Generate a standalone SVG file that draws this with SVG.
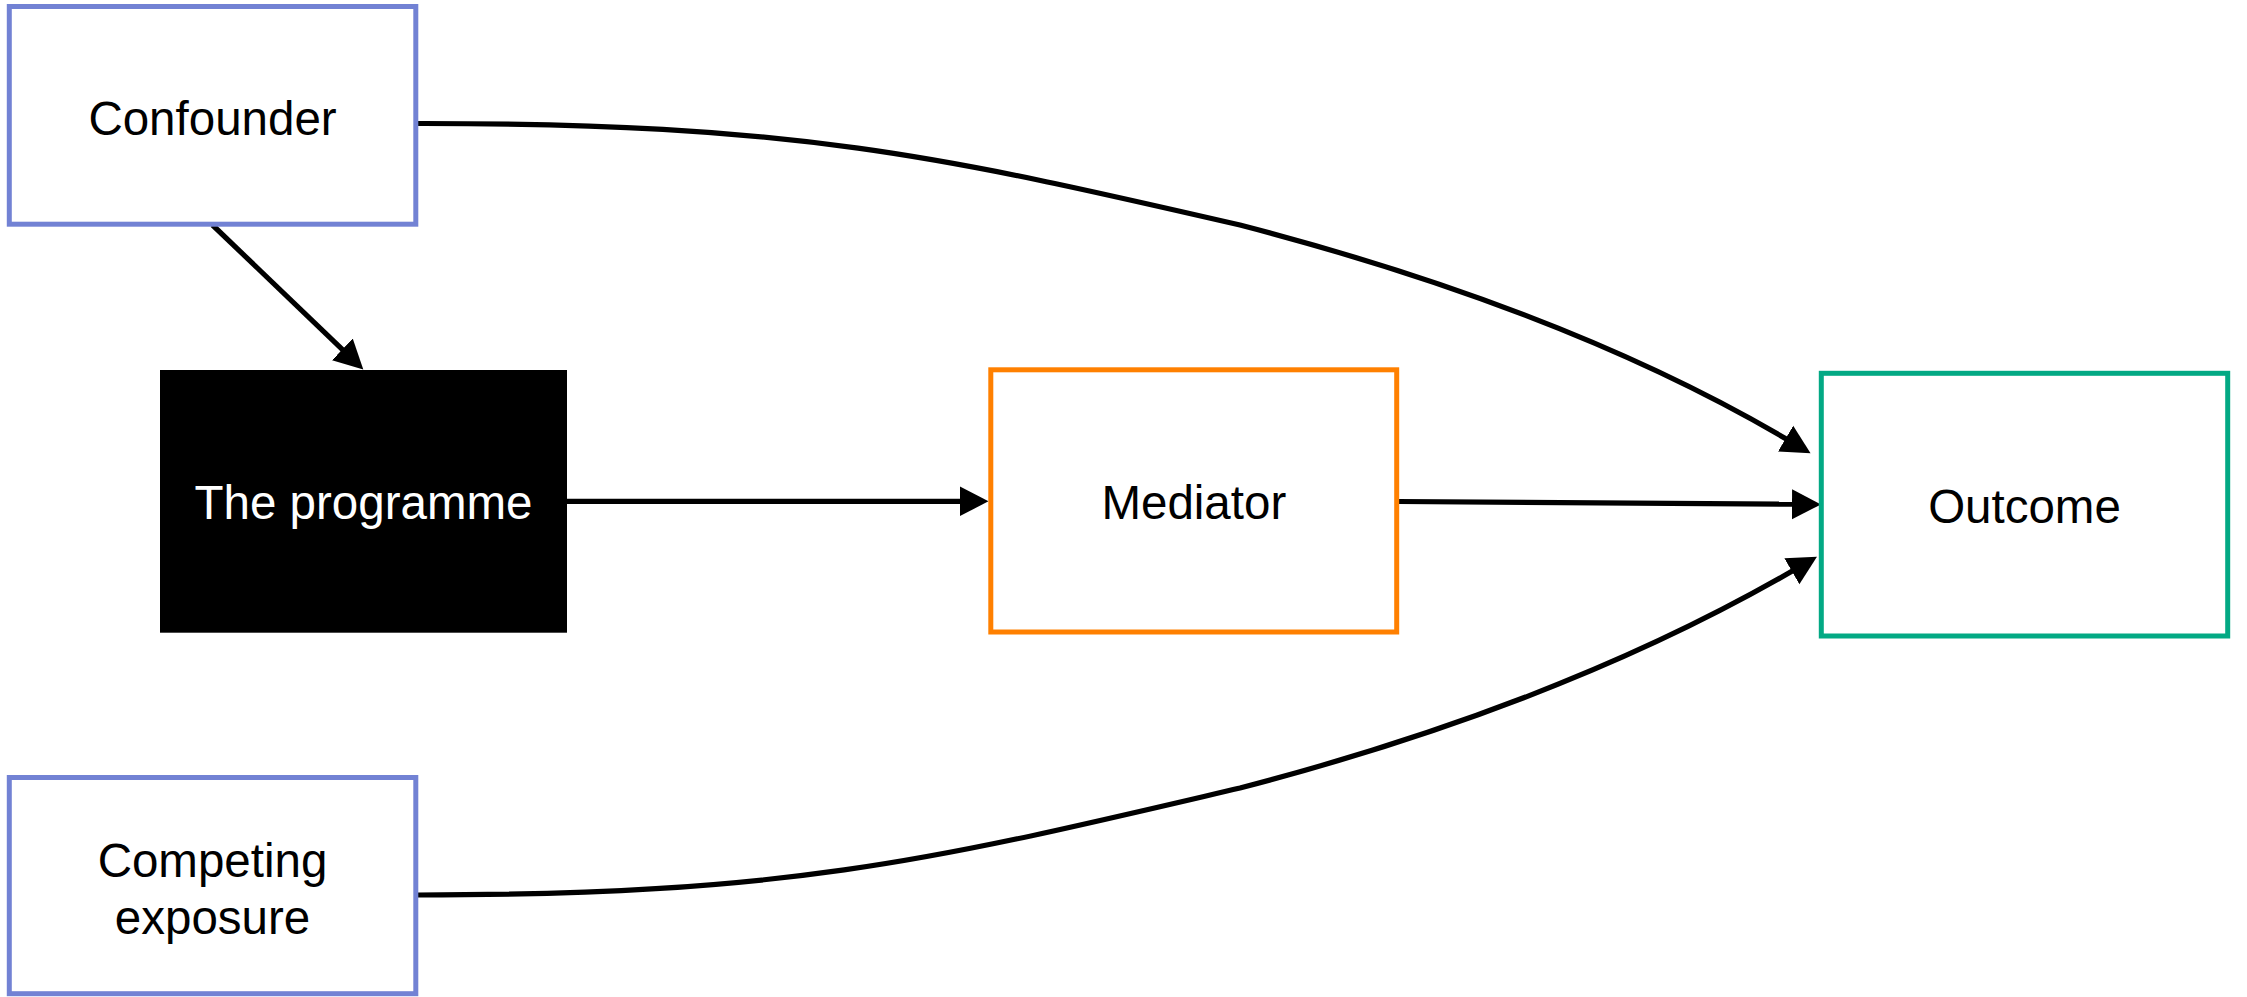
<svg xmlns="http://www.w3.org/2000/svg" width="2247" height="997" viewBox="0 0 2247 997">
  <style>
    .box { fill: #ffffff; stroke-width: 5; }
    .blue { stroke: #7282d4; }
    .orange { stroke: #ff8000; }
    .green { stroke: #03a984; }
    .lbl { font-family: "Liberation Sans", Arial, sans-serif; font-size: 47.5px; text-anchor: middle; fill: #000000; }
    .edge { fill: none; stroke: #000000; stroke-width: 5.2; marker-end: url(#arrow); }
  </style>
  <defs>
    <marker id="arrow" markerUnits="userSpaceOnUse" viewBox="0 -16 30 32" markerWidth="30" markerHeight="32" refX="2" refY="0" orient="auto">
      <path d="M0,-15 L29,0 L0,15 Z" fill="#000000"/>
    </marker>
  </defs>
  <rect width="2247" height="997" fill="#ffffff"/>

  <g id="connectors">
    <path class="edge" d="M212.5,225 L343.8,350.8"/>
    <path class="edge" d="M567,501.3 L961.5,501.3"/>
    <path class="edge" d="M1399,501.5 L1794,504.2"/>
    <path class="edge" d="M416,123.5 C796,123 940,156 1240,225 C1458,281.7 1639.3,352.3 1787.3,439.6"/>
    <path class="edge" d="M418,895 C798,895 940,858 1240,788 C1455,732 1638.6,660 1793.6,570.3"/>
  </g>

  <g id="node-confounder">
    <rect class="box blue" x="9.3" y="6.5" width="406.5" height="217.7"/>
    <text class="lbl" x="212.5" y="135">Confounder</text>
  </g>

  <g id="node-programme">
    <rect x="160" y="370" width="407" height="262.7" fill="#000000"/>
    <text class="lbl" x="363.5" y="519" style="fill:#ffffff">The programme</text>
  </g>

  <g id="node-mediator">
    <rect class="box orange" x="990.8" y="369.8" width="405.9" height="262.2"/>
    <text class="lbl" x="1193.8" y="518.5">Mediator</text>
  </g>

  <g id="node-outcome">
    <rect class="box green" x="1821.3" y="373.3" width="406.4" height="262.7"/>
    <text class="lbl" x="2024.5" y="522.7">Outcome</text>
  </g>

  <g id="node-competing">
    <rect class="box blue" x="9.3" y="777.5" width="406.5" height="216.2"/>
    <text class="lbl" x="212.5" y="876.7">Competing</text>
    <text class="lbl" x="212.5" y="934">exposure</text>
  </g>
</svg>
